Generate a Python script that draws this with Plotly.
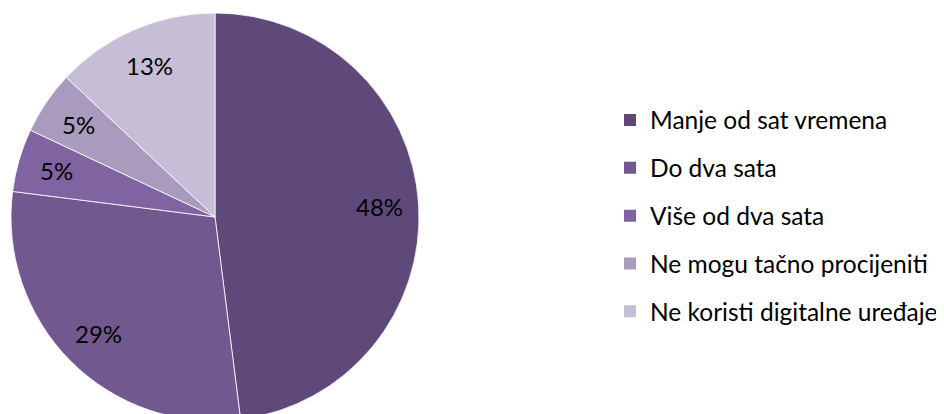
import math
import plotly.graph_objects as go

labels = ["Manje od sat vremena", "Do dva sata", "Više od dva sata",
          "Ne mogu tačno procijeniti", "Ne koristi digitalne uređaje"]
values = [48, 29, 5, 5, 13]
colors = ["#5F497A", "#71588F", "#8064A2", "#A99BBE", "#C6BED6"]

W, H = 944, 414          # page adds 8px body margin on each side
FONT = "Lato"
CX, CY, R = 207, 209, 204  # pie centre / radius in figure pixels

fig = go.Figure()
fig.add_trace(go.Pie(
    labels=labels, values=values, sort=False, direction="clockwise", rotation=0,
    marker=dict(colors=colors, line=dict(color="rgba(255,255,255,0.8)", width=1)),
    textinfo="none", showlegend=False, hoverinfo="label+percent",
    domain=dict(x=[(CX - R) / W, (CX + R) / W],
                y=[(H - CY - R) / H, min(1, (H - CY + R) / H)]),
))
for lab, col in zip(labels, colors):
    fig.add_trace(go.Scatter(
        x=[None], y=[None], mode="markers", name=lab, legendgroup=lab,
        marker=dict(symbol="square", size=12, color=col),
    ))

# percentage labels placed at the middle angle of each slice
total = sum(values)
annotations = []
cum = 0
for v in values:
    mid = (cum + v / 2) / total * 2 * math.pi
    cum += v
    rr = 0.81 * R
    px = CX + rr * math.sin(mid)
    py = CY - rr * math.cos(mid)
    annotations.append(dict(
        x=px / W, y=1 - py / H, xref="paper", yref="paper",
        text=f"{round(v / total * 100)}%", showarrow=False,
        font=dict(family=FONT, size=24, color="black"),
        xanchor="center", yanchor="middle",
    ))

fig.update_layout(
    width=W, height=H, margin=dict(l=0, r=0, t=0, b=0),
    paper_bgcolor="white", plot_bgcolor="white",
    xaxis=dict(visible=False), yaxis=dict(visible=False),
    annotations=annotations,
    legend=dict(x=602 / W, xanchor="left", y=1 - 208 / H, yanchor="middle",
                font=dict(family=FONT, size=24.5, color="black"),
                tracegroupgap=13, itemsizing="trace", bgcolor="rgba(0,0,0,0)"),
    font=dict(family=FONT),
)
fig.write_html("out.html")
